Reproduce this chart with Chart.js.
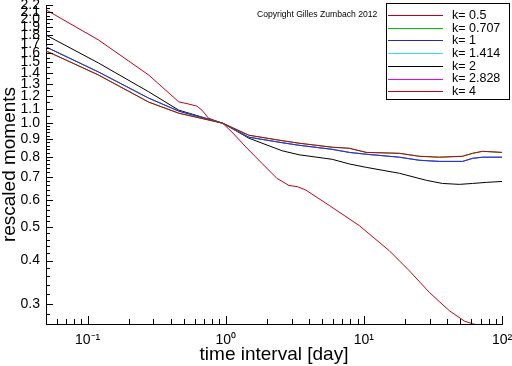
<!DOCTYPE html>
<html><head><meta charset="utf-8">
<script src="https://cdn.jsdelivr.net/npm/chart.js@4/dist/chart.umd.min.js"></script>
<style>html,body{margin:0;padding:0;background:#fff;}</style>
</head><body>
<canvas id="c" width="512" height="366"></canvas>
<script>
// ---- data ----
const seriesLabels = ['k= 0.5','k= 0.707','k= 1','k= 1.414','k= 2','k= 2.828','k= 4'];

const xK05 = [0.05,0.12,0.277,0.457,0.95,1.47,2.56,3.4,5.9,7.84,10.4,18.1,25.2,35.3,51.8,61.2,72.3,100];
const yK05 = [1.62,1.379,1.151,1.069,1.0,0.923,0.89,0.875,0.852,0.846,0.823,0.818,0.802,0.797,0.802,0.818,0.829,0.823];

const xK0707 = [0.05,0.12,0.277,0.457,0.95,1.47,2.56,3.4,5.9,7.84,10.4,18.1,25.2,35.3,51.8,61.2,72.3,100];
const yK0707 = [1.62,1.379,1.151,1.069,1.0,0.923,0.89,0.875,0.852,0.846,0.823,0.818,0.802,0.797,0.802,0.818,0.829,0.823];

const xK1 = [0.05,0.12,0.277,0.457,0.95,1.47,2.56,3.4,5.9,7.84,10.4,18.1,25.2,35.3,51.8,61.2,72.3,100];
const yK1 = [1.663,1.407,1.182,1.084,1.0,0.911,0.878,0.863,0.84,0.823,0.813,0.797,0.781,0.775,0.775,0.791,0.797,0.797];

const xK1414 = [0.05,0.12,0.277,0.457,0.95,1.47,2.56,3.4,5.9,7.84,10.4,18.1,25.2,35.3,51.8,61.2,72.3,100];
const yK1414 = [1.663,1.407,1.182,1.084,1.0,0.911,0.878,0.863,0.84,0.823,0.813,0.797,0.781,0.775,0.775,0.791,0.797,0.797];

const xK2 = [0.05,0.12,0.277,0.457,0.95,1.47,2.56,3.4,5.9,7.84,10.4,18.1,28.4,37.1,49.2,61.2,77.3,100];
const yK2 = [1.80,1.494,1.233,1.091,1.0,0.905,0.832,0.81,0.786,0.762,0.745,0.716,0.683,0.669,0.665,0.669,0.674,0.678];

const xK2828 = [0.05,0.12,0.277,0.457,0.95,1.47,2.56,3.4,5.9,7.84,10.4,18.1,25.2,35.3,51.8,61.2,72.3,100];
const yK2828 = [1.663,1.407,1.182,1.084,1.0,0.911,0.878,0.863,0.84,0.823,0.813,0.797,0.781,0.775,0.775,0.791,0.797,0.797];

const xK4 = [0.05,0.12,0.277,0.457,0.541,0.618,0.673,0.75,0.95,1.109,1.4,1.83,2.35,2.87,3.3,3.8,5.61,9.27,15.3,21.3,29.9,41.7,53.6,62,68];
const yK4 = [2.131,1.742,1.379,1.153,1.136,1.121,1.091,1.034,1.0,0.943,0.853,0.765,0.692,0.66,0.655,0.64,0.578,0.505,0.427,0.374,0.323,0.286,0.267,0.262,0.26];

const xTickValues = [0.1,1,10,100];
const xTickLabels = ['10\u207B\u00B9','10\u2070','10\u00B9','10\u00B2'];
const yTickValues = [0.3,0.4,0.5,0.6,0.7,0.8,0.9,1.0,1.1,1.2,1.3,1.4,1.5,1.6,1.7,1.8,1.9,2.0,2.1,2.2];
const yTickLabels = ['0.3','0.4','0.5','0.6','0.7','0.8','0.9','1.0','1.1','1.2','1.3','1.4','1.5','1.6','1.7','1.8','1.9','2.0','2.1','2.2'];
const xAxisTitle = 'time interval [day]';
const yAxisTitle = 'rescaled moments';
const copyrightText = 'Copyright Gilles Zumbach 2012';

// ---- styles ----
const seriesColors = ['#c00018','#00c000','#2828c0','#30e4e4','#000000','#f000f0','#c00018'];
const FONT = 'Liberation Sans, Arial, Helvetica, sans-serif';

const xs = [xK05,xK0707,xK1,xK1414,xK2,xK2828,xK4];
const ys = [yK05,yK0707,yK1,yK1414,yK2,yK2828,yK4];

const datasets = seriesLabels.map((lab,i)=>({
  label: lab,
  data: xs[i].map((x,j)=>({x:x, y:ys[i][j]})),
  borderColor: seriesColors[i],
  backgroundColor: seriesColors[i],
  borderWidth: 1,
  pointRadius: 0,
  fill: false,
  tension: 0
}));

// minor tick positions
const yMinor = [];
for (let v = 28; v < 100; v += 2) yMinor.push(v/100);
for (let v = 105; v <= 220; v += 10) yMinor.push(v/100);
const xMinor = [];
[0.01,0.1,1,10].forEach(d=>{ for (let m=2;m<=9;m++){ const v=m*d; if (v>=0.05 && v<=100) xMinor.push(v);} });

const decor = {
  id:'decor',
  afterDraw(chart){
    const c = chart.ctx, a = chart.chartArea;
    const sx = chart.scales.x, sy = chart.scales.y;
    c.save();
    c.strokeStyle = '#000'; c.lineWidth = 1;
    c.beginPath();
    yMinor.forEach(v=>{ const p=Math.round(sy.getPixelForValue(v))+0.5; c.moveTo(a.left,p); c.lineTo(a.left+4,p); });
    yTickValues.forEach(v=>{ const p=Math.round(sy.getPixelForValue(v))+0.5; c.moveTo(a.left,p); c.lineTo(a.left+7,p); });
    xMinor.forEach(v=>{ const p=Math.round(sx.getPixelForValue(v))+0.5; c.moveTo(p,a.bottom); c.lineTo(p,a.bottom-5); });
    xTickValues.forEach(v=>{ const p=Math.round(sx.getPixelForValue(v))+0.5; c.moveTo(p,a.bottom); c.lineTo(p,a.bottom-8); });
    c.stroke();

    c.fillStyle = '#000';
    c.font = '8.6px ' + FONT;
    c.textBaseline = 'middle'; c.textAlign = 'left';
    c.fillText(copyrightText, 257, 15);

    const L=386.5, T=3.5, R=509.5, B=99.5;
    c.fillStyle='#fff'; c.fillRect(L,T,R-L,B-T);
    c.strokeStyle='#000'; c.lineWidth=1; c.strokeRect(L,T,R-L,B-T);
    c.font = '12.5px ' + FONT;
    chart.data.datasets.forEach((ds,i)=>{
      const yy = 15 + i*12.7;
      c.strokeStyle = ds.borderColor; c.lineWidth = 1;
      c.beginPath(); c.moveTo(388, Math.round(yy)+0.5); c.lineTo(443, Math.round(yy)+0.5); c.stroke();
      c.fillStyle = '#000'; c.textBaseline='middle';
      c.fillText(ds.label, 452, yy+0.5);
    });
    c.restore();
  }
};

new Chart(document.getElementById('c'), {
  type:'line',
  data:{datasets},
  options:{
    responsive:false, animation:false, devicePixelRatio:1,
    layout:{padding:{top:5,right:10,left:0,bottom:0}},
    plugins:{legend:{display:false}, tooltip:{enabled:false}},
    scales:{
      x:{
        type:'logarithmic', min:0.05, max:100,
        grid:{display:false, drawTicks:false},
        border:{display:true, color:'#000', width:1},
        ticks:{autoSkip:false, maxRotation:0, padding:8, color:'#000',
          font:{family:FONT, size:14},
          callback:(v)=>{ const i = xTickValues.findIndex(t=>Math.abs(t-v)<1e-9*Math.max(1,v)); return i>=0 ? xTickLabels[i] : ''; }},
        afterBuildTicks:(s)=>{ s.ticks = xTickValues.map(v=>({value:v})); },
        afterFit:(s)=>{ s.height = 42; s.paddingLeft=0; s.paddingRight=0; },
        title:{display:true, text:xAxisTitle, color:'#000', padding:0, font:{family:FONT, size:19, lineHeight:1.2}}
      },
      y:{
        type:'logarithmic', min:0.262, max:2.2,
        grid:{display:false, drawTicks:false},
        border:{display:true, color:'#000', width:1},
        ticks:{autoSkip:false, padding:6, color:'#000',
          font:{family:FONT, size:14},
          callback:(v)=>{ const i = yTickValues.findIndex(t=>Math.abs(t-v)<1e-6); return i>=0 ? yTickLabels[i] : ''; }},
        afterBuildTicks:(s)=>{ s.ticks = yTickValues.map(v=>({value:v})); },
        afterFit:(s)=>{ s.width = 46; s.paddingTop=0; s.paddingBottom=0; },
        title:{display:true, text:yAxisTitle, color:'#000', padding:0, font:{family:FONT, size:19, lineHeight:1}}
      }
    }
  },
  plugins:[decor]
});
</script>
</body></html>
